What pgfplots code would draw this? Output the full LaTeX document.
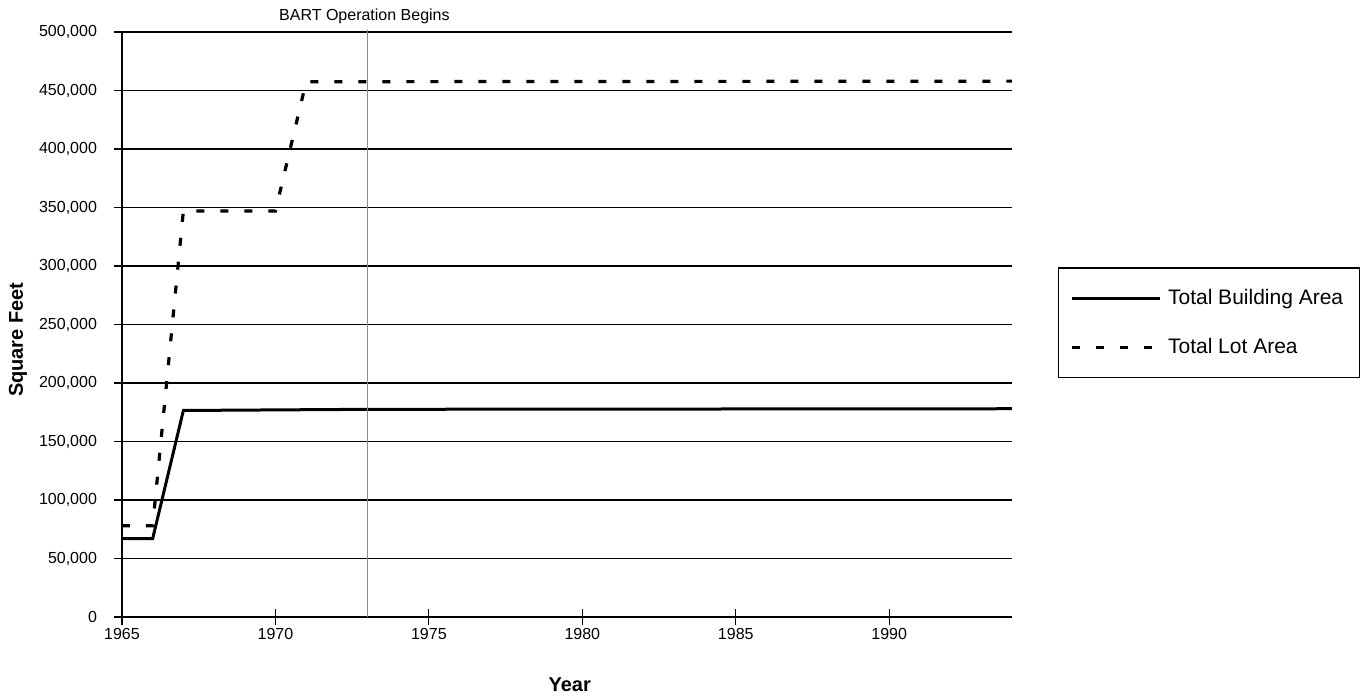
\documentclass[border=0pt]{standalone}
\usepackage{pgfplots}
\pgfplotsset{compat=1.18}
\usepackage{fontspec}
\setmainfont{Liberation Sans}
\begin{document}
\begin{tikzpicture}
\begin{axis}[
  scale only axis,
  width=445pt, height=292.5pt,
  xmin=1965, xmax=1994,
  ymin=0, ymax=500000,
  axis x line*=bottom, axis y line*=left,
  axis line style={-, line width=0.6pt},
  xtick={1965,1970,1975,1980,1985,1990},
  ytick={0,50000,100000,150000,200000,250000,300000,350000,400000,450000,500000},
  tick align=center,
  major tick length=8pt,
  tick style={black, line width=0.6pt},
  ymajorgrids,
  major grid style={black, line width=0.6pt},
  scaled y ticks=false,
  xticklabel style={/pgf/number format/1000 sep={}, yshift=2pt},
  yticklabel style={/pgf/number format/fixed, /pgf/number format/1000 sep={,}, xshift=-5pt},
  /pgf/number format/assume math mode=true,
  tick label style={font=\fontsize{8}{9.6}\selectfont},
  xlabel={\textbf{Year}},
  ylabel={\textbf{Square Feet}},
  xlabel style={at={(axis description cs:0.503,-0.116)}, anchor=center, font=\fontsize{10}{12}\selectfont},
  ylabel style={at={(axis description cs:-0.117,0.474)}, anchor=center, font=\fontsize{10}{12}\selectfont},
  clip=false,
  legend style={at={(1.052,0.503)}, anchor=west, draw=black, line width=0.6pt,
    font=\fontsize{10.5}{12.6}\selectfont, inner xsep=6pt, inner ysep=8.5pt, row sep=11.5pt, column sep=1pt},
  legend cell align=left,
  legend image code/.code={\draw[#1] (0pt,0pt) -- (44pt,0pt);},
]
\addplot[black, line width=1.5pt] coordinates {
  (1965,67000) (1966,67000) (1967,176500) (1973,177500) (1994,178000)};
\addlegendentry{Total Building Area}
\addplot[black, line width=1.6pt, dash pattern=on 4pt off 8pt] coordinates {
  (1965,78000) (1966,78000) (1967,347000) (1970,347000) (1971,457500) (1994,458000)};
\addlegendentry{Total Lot Area}
\addplot[black!45, line width=0.6pt, forget plot] coordinates {(1973,0) (1973,501500)};
\node[anchor=base, font=\fontsize{8}{9.6}\selectfont, yshift=5.5pt] at (axis cs:1972.9,500000) {BART Operation Begins};
\end{axis}
\pgfresetboundingbox
\path[use as bounding box] ([shift={(-61pt,-41.5pt)}]current axis.south west) rectangle ([shift={(619.5pt,308.5pt)}]current axis.south west);
\end{tikzpicture}
\end{document}
